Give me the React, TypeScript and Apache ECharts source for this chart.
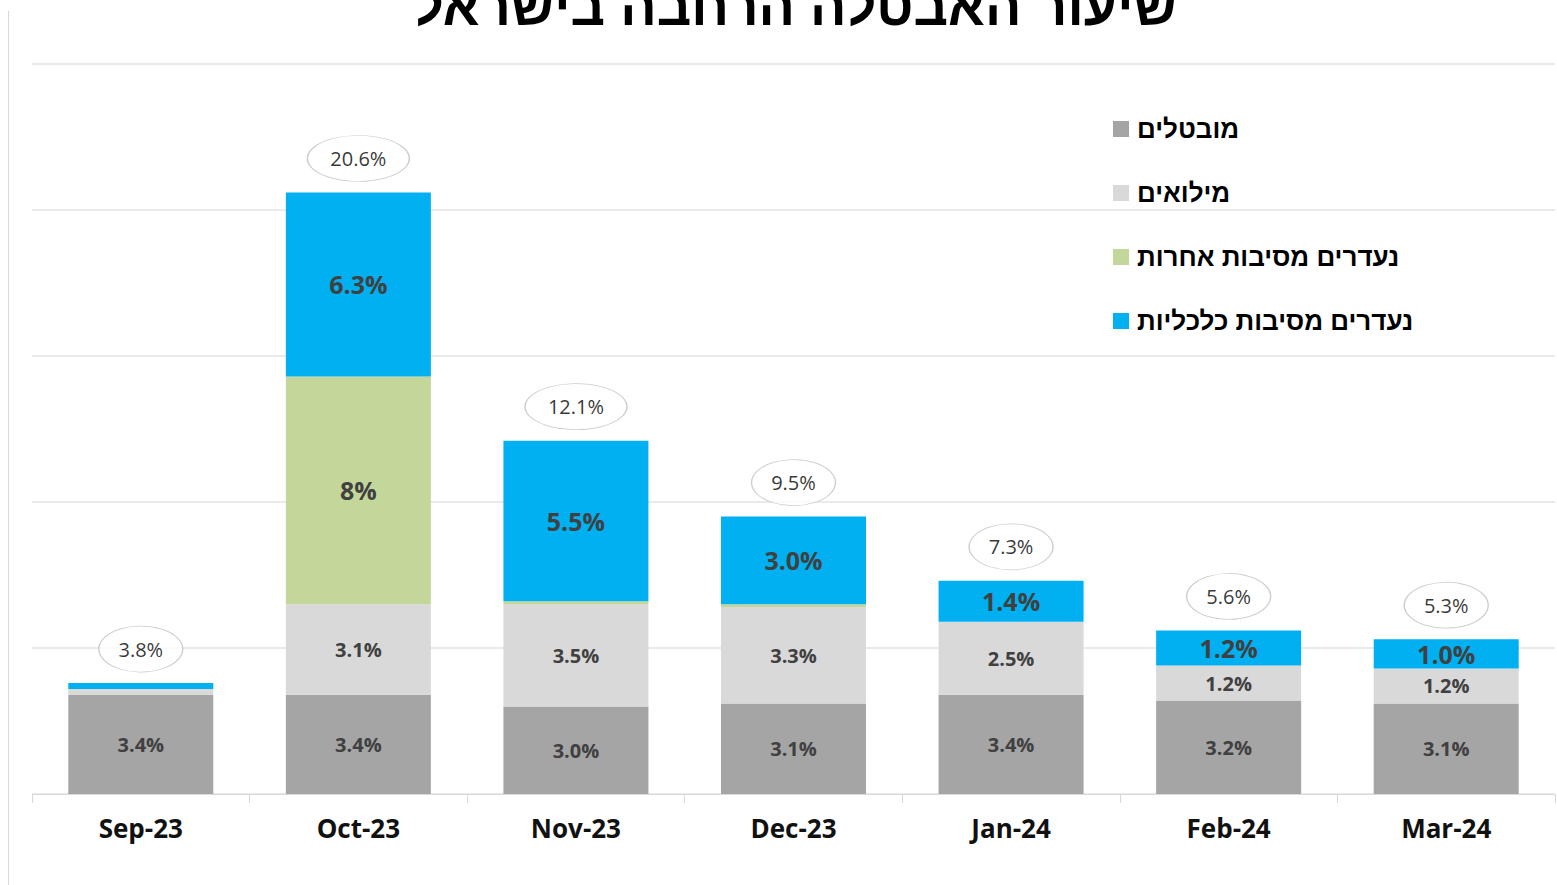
import React, { useEffect, useRef } from "react";
import * as echarts from "echarts";

const months = ["Sep-23", "Oct-23", "Nov-23", "Dec-23", "Jan-24", "Feb-24", "Mar-24"];
const unemployed = [3.4, 3.4, 3.0, 3.1, 3.4, 3.2, 3.1];
const reserves = [0.2, 3.1, 3.5, 3.3, 2.5, 1.2, 1.2];
const otherAbsent = [0, 7.8, 0.1, 0.1, 0, 0, 0];
const economicAbsent = [0.2, 6.3, 5.5, 3.0, 1.4, 1.2, 1.0];
const totals = [3.8, 20.6, 12.1, 9.5, 7.3, 5.6, 5.3];

const unemployedLabels = ["3.4%", "3.4%", "3.0%", "3.1%", "3.4%", "3.2%", "3.1%"];
const reservesLabels = ["", "3.1%", "3.5%", "3.3%", "2.5%", "1.2%", "1.2%"];
const otherLabels = ["", "8%", "", "", "", "", ""];
const economicLabels = ["", "6.3%", "5.5%", "3.0%", "1.4%", "1.2%", "1.0%"];
const totalLabels = ["3.8%", "20.6%", "12.1%", "9.5%", "7.3%", "5.6%", "5.3%"];

const seriesNames = ["מובטלים", "מילואים", "נעדרים מסיבות אחרות", "נעדרים מסיבות כלכליות"];
const colors = ["#a5a5a5", "#d9d9d9", "#c4d79b", "#00b0f0"];

const TITLE = "שיעור האבטלה הרחבה בישראל";

export default function App() {
  const ref = useRef<HTMLDivElement>(null);
  useEffect(() => {
    if (!ref.current) return;
    const chart = echarts.init(ref.current, null, { renderer: "svg" });
    const labelFont = "'Open Sans', sans-serif";
    const hebFont = "'Liberation Sans', 'DejaVu Sans', sans-serif";
    const mkBar = (name: string, data: number[], labels: string[], color: string, fontSize: number) => ({
      name,
      type: "bar",
      stack: "total",
      barWidth: 145,
      data,
      itemStyle: { color },
      label: {
        show: true,
        position: "inside",
        fontFamily: labelFont,
        fontWeight: "bold",
        fontSize,
        color: "#404040",
        formatter: (p: any) => labels[p.dataIndex],
      },
      emphasis: { disabled: true },
    });
    chart.setOption({
      animation: false,
      backgroundColor: "#ffffff",
      grid: { left: 32, right: 2, top: 64, bottom: 91, containLabel: false },
      legend: {
        data: seriesNames,
        orient: "vertical",
        left: 1108,
        top: 111,
        itemWidth: 16,
        itemHeight: 16,
        itemGap: 38,
        icon: "rect",
        selectedMode: false,
        textStyle: {
          fontFamily: hebFont,
          fontWeight: 900,
          fontSize: 26,
          color: "#000",
          padding: [0, 0, 0, 3],
        },
      },
      graphic: [
        {
          type: "text",
          x: 795,
          y: 33,
          style: {
            text: TITLE,
            fontFamily: hebFont,
            fontWeight: 900,
            fontSize: 54,
            fill: "#000",
            align: "center",
            verticalAlign: "bottom",
          },
        },
        {
          type: "line",
          shape: { x1: 8.5, y1: 11, x2: 8.5, y2: 885 },
          style: { stroke: "#d9d9d9", lineWidth: 1 },
        },
      ],
      xAxis: {
        type: "category",
        data: months,
        axisLine: { lineStyle: { color: "#d9d9d9", width: 1 } },
        axisTick: { show: true, length: 9, lineStyle: { color: "#d9d9d9" } },
        axisLabel: {
          fontFamily: labelFont,
          fontWeight: "bold",
          fontSize: 26,
          color: "#111",
          margin: 21,
        },
      },
      yAxis: {
        type: "value",
        min: 0,
        max: 25,
        interval: 5,
        axisLabel: { show: false },
        axisLine: { show: false },
        axisTick: { show: false },
        splitLine: { lineStyle: { color: "#e3e3e3", width: 1.5 } },
      },
      series: [
        mkBar(seriesNames[0], unemployed, unemployedLabels, colors[0], 20),
        mkBar(seriesNames[1], reserves, reservesLabels, colors[1], 20),
        mkBar(seriesNames[2], otherAbsent, otherLabels, colors[2], 25),
        mkBar(seriesNames[3], economicAbsent, economicLabels, colors[3], 25),
        {
          name: "total",
          type: "scatter",
          z: 5,
          data: totals.map((v, i) => ({
            value: v,
            symbolSize: [totalLabels[i].length >= 5 ? 102 : 84, 46],
          })),
          symbol: "circle",
          symbolOffset: [0, -34],
          itemStyle: { color: "#ffffff", borderColor: "#bfbfbf", borderWidth: 1 },
          label: {
            show: true,
            position: "inside",
            fontFamily: labelFont,
            fontSize: 20,
            color: "#000",
            formatter: (p: any) => totalLabels[p.dataIndex],
          },
          emphasis: { disabled: true },
        },
      ],
    });
    return () => chart.dispose();
  }, []);
  return (
    <div
      ref={ref}
      style={{ position: "fixed", left: 0, top: 0, width: 1557, height: 885, background: "#fff" }}
    />
  );
}
